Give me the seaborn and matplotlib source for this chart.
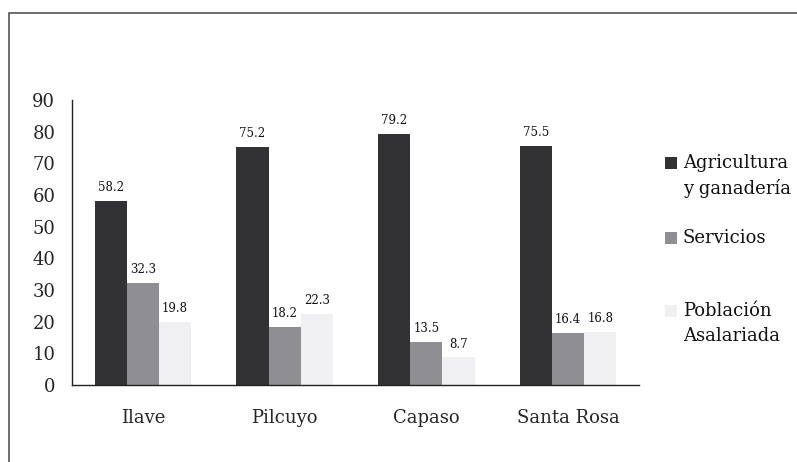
import numpy as np
import pandas as pd
import matplotlib
matplotlib.use("Agg")
import matplotlib.pyplot as plt
from matplotlib.patches import Rectangle
import seaborn as sns

# datos
distritos = ["Ilave", "Pilcuyo", "Capaso", "Santa Rosa"]
series = ["Agricultura\ny ganadería", "Servicios", "Población\nAsalariada"]
agricultura = [58.2, 75.2, 79.2, 75.5]
servicios = [32.3, 18.2, 13.5, 16.4]
asalariada = [19.8, 22.3, 8.7, 16.8]
colores = ["#323234", "#8f8f93", "#f0f0f2"]

df = pd.DataFrame({
    "distrito": distritos * 3,
    "serie": [series[0]] * 4 + [series[1]] * 4 + [series[2]] * 4,
    "valor": agricultura + servicios + asalariada,
})

sns.set_style("white")
plt.rcParams["font.family"] = ["DejaVu Serif"]

W, H = 797, 462
fig = plt.figure(figsize=(W / 100, H / 100), dpi=100)
ax = fig.add_axes([72 / W, 1 - 385 / H, (639 - 72) / W, (385 - 100) / H])

sns.barplot(data=df, x="distrito", y="valor", hue="serie", order=distritos,
            hue_order=series, palette=colores, width=0.68, saturation=1,
            edgecolor="none", linewidth=0, ax=ax, legend=False)

for cont in ax.containers:
    ax.bar_label(cont, fmt="%.1f", padding=5, fontsize=8.5, color="#111111")

ax.set_ylim(0, 90)
ax.set_xlim(-0.5, len(distritos) - 0.5)
ax.set_yticks(np.arange(0, 91, 10))
ax.set_xlabel("")
ax.set_ylabel("")

# marcas del eje x entre grupos
ax.set_xticks(np.arange(-0.5, len(distritos), 1.0), minor=True)
ax.tick_params(axis="x", which="major", length=0, pad=17, labelsize=13)
ax.tick_params(axis="x", which="minor", length=6, width=1, direction="out", color="#222222")
ax.tick_params(axis="y", length=5, width=1, direction="out", color="#222222",
               labelsize=13, pad=7)

for s in ["top", "right"]:
    ax.spines[s].set_visible(False)
for s in ["left", "bottom"]:
    ax.spines[s].set_color("#222222")
    ax.spines[s].set_linewidth(1)

# leyenda a mano: el cuadro va alineado con la primera línea
leyenda_y = [163, 238, 311]
for nombre, color, y0 in zip(series, colores, leyenda_y):
    fig.patches.append(Rectangle((665 / W, 1 - (y0 + 6) / H), 12 / W, 12 / H,
                                 transform=fig.transFigure, facecolor=color,
                                 edgecolor="none"))
    for i, linea in enumerate(nombre.split("\n")):
        fig.text(683 / W, 1 - (y0 + 25 * i) / H, linea, fontsize=13,
                 va="center", ha="left", color="#111111")

# marco alrededor de la figura
fig.patches.append(Rectangle((9 / W, -0.1), 1.2, 1 - 13 / H + 0.1,
                             transform=fig.transFigure, fill=False,
                             edgecolor="#555555", linewidth=1.2))

fig.savefig("out.png", dpi=100)
